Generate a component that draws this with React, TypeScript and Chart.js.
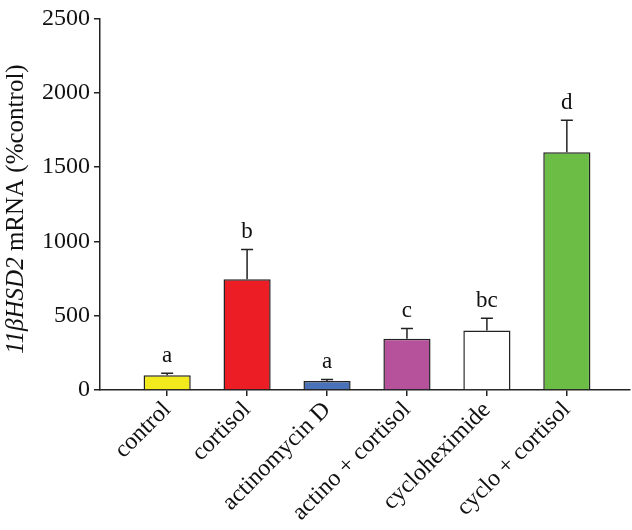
import React, { useEffect, useRef } from "react";
import { Chart, registerables } from "chart.js";

Chart.register(...registerables);

const categories = ["control", "cortisol", "actinomycin D", "actino + cortisol", "cycloheximide", "cyclo + cortisol"];
const means = [100, 745, 60, 345, 400, 1600];
const errors = [12, 200, 10, 68, 82, 215];
const letters = ["a", "b", "a", "c", "bc", "d"];
const colors = ["#f2ea1d", "#ec1d25", "#4a72b8", "#b6519c", "#ffffff", "#6bbd46"];
const yTicks = [0, 500, 1000, 1500, 2000, 2500];

const SERIF = "'Liberation Serif', 'Times New Roman', serif";

const overlay = {
  id: "overlay",
  afterDatasetsDraw(chart: any) {
    const { ctx, scales } = chart;
    const xs = scales.x;
    const ys = scales.y;
    ctx.save();
    ctx.strokeStyle = "#222";
    ctx.lineWidth = 1.5;
    ctx.fillStyle = "#111";
    ctx.font = `23px ${SERIF}`;
    ctx.textAlign = "center";
    ctx.textBaseline = "bottom";
    means.forEach((m, i) => {
      const x = xs.getPixelForValue(i);
      const yb = ys.getPixelForValue(m);
      const yt = ys.getPixelForValue(m + errors[i]);
      ctx.beginPath();
      ctx.moveTo(x, yb);
      ctx.lineTo(x, yt);
      ctx.moveTo(x - 6, yt);
      ctx.lineTo(x + 6, yt);
      ctx.stroke();
      ctx.fillText(letters[i], x, yt - 6);
    });
    ctx.restore();
  },
  afterDraw(chart: any) {
    const { ctx, chartArea } = chart;
    ctx.save();
    const cy = (chartArea.top + chartArea.bottom) / 2 + 5;
    ctx.translate(16, cy);
    ctx.rotate(-Math.PI / 2);
    ctx.fillStyle = "#111";
    ctx.textBaseline = "middle";
    const italic = `italic 25px ${SERIF}`;
    const normal = `25px ${SERIF}`;
    const p1 = "11\u03B2HSD2";
    const p2 = " mRNA (%control)";
    ctx.font = italic;
    const w1 = ctx.measureText(p1).width;
    ctx.font = normal;
    const w2 = ctx.measureText(p2).width;
    const start = -(w1 + w2) / 2;
    ctx.textAlign = "left";
    ctx.font = italic;
    ctx.fillText(p1, start, 0);
    ctx.font = normal;
    ctx.fillText(p2, start + w1, 0);
    ctx.restore();
  },
};

export default function App() {
  const ref = useRef<HTMLCanvasElement | null>(null);
  useEffect(() => {
    document.body.style.margin = "0";
    const canvas = ref.current;
    if (!canvas) return;
    const chart = new Chart(canvas, {
      type: "bar",
      data: {
        datasets: [
          {
            data: means.map((m, i) => ({ x: i, y: m })),
            backgroundColor: colors,
            borderColor: "#222",
            borderWidth: 1.5,
            barPercentage: 0.59,
            categoryPercentage: 1,
          },
        ],
      },
      options: {
        animation: false,
        responsive: false,
        maintainAspectRatio: false,
        layout: { padding: { top: 15, right: 2, left: 0, bottom: 0 } },
        plugins: { legend: { display: false }, tooltip: { enabled: false } },
        scales: {
          x: {
            type: "linear",
            offset: false,
            min: -0.84,
            max: 5.79,
            afterBuildTicks(scale: any) {
              scale.ticks = categories.map((_, i) => ({ value: i }));
            },
            afterFit(scale: any) {
              scale.height = 140;
            },
            ticks: {
              autoSkip: false,
              maxRotation: 45,
              minRotation: 45,
              padding: 0,
              color: "#111",
              font: { family: SERIF, size: 24 },
              callback: (v: any) => categories[Math.round(Number(v))] ?? "",
            },
            grid: { display: true, offset: false, drawOnChartArea: false, drawTicks: true, tickLength: 6, color: "#222", lineWidth: 1.5 },
            border: { display: true, color: "#222", width: 1.5 },
          },
          y: {
            min: 0,
            max: 2500,
            afterBuildTicks(scale: any) {
              scale.ticks = yTicks.map((v) => ({ value: v }));
            },
            afterFit(scale: any) {
              scale.width = 100;
            },
            ticks: {
              padding: 4,
              color: "#111",
              font: { family: SERIF, size: 24 },
              callback: (v: any) => String(v),
            },
            grid: { display: true, drawOnChartArea: false, drawTicks: true, tickLength: 6, color: "#222", lineWidth: 1.5 },
            border: { display: true, color: "#222", width: 1.5 },
          },
        },
      },
      plugins: [overlay],
    } as any);
    return () => chart.destroy();
  }, []);
  return <canvas ref={ref} width={632} height={530} style={{ display: "block" }} />;
}
